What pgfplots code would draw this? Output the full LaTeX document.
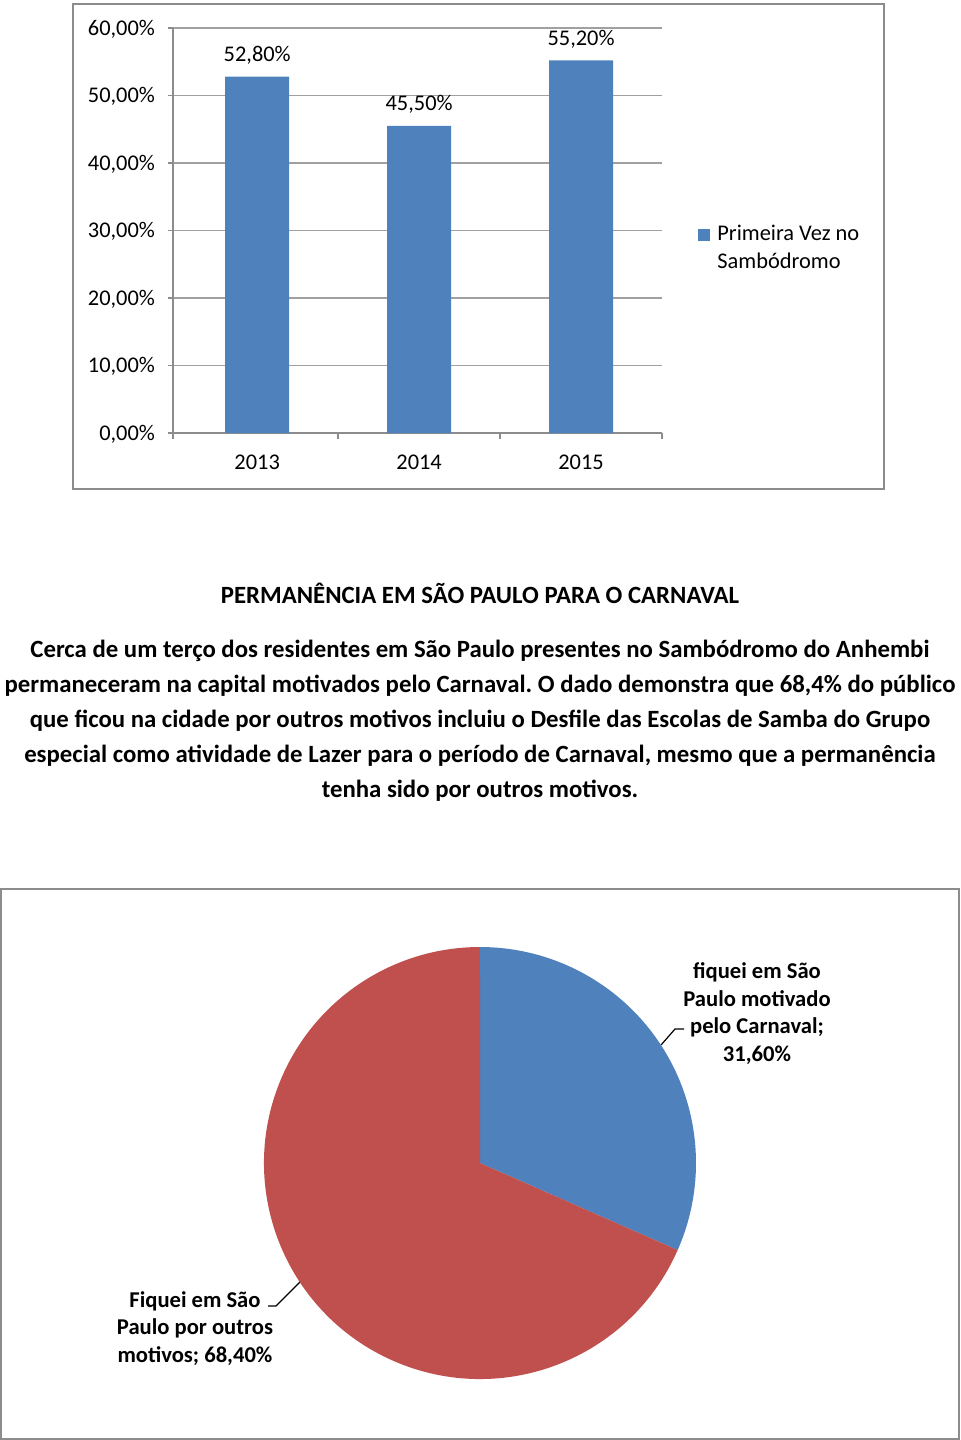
\documentclass[border=0pt]{standalone}
\usepackage{pgfplots}
\pgfplotsset{compat=1.18}
\usepackage{pgfplotstable}
\usepackage{fontspec}
\setmainfont{Carlito}
\frenchspacing
\definecolor{xlblue}{HTML}{4F81BD}
\definecolor{xlred}{HTML}{C0504D}
\definecolor{xlgrid}{HTML}{A0A0A0}
\definecolor{xlaxis}{HTML}{8C8C8C}
\definecolor{xlbox}{HTML}{8C8C8C}
\pgfplotstableread{
label value
blue 31.6
red 68.4
}\piedata
\begin{document}
\begin{tikzpicture}
\pgfplotstablegetelem{0}{value}\of\piedata
\pgfmathsetmacro\angA{90-3.6*\pgfplotsretval}
\begin{scope}[x=0.5pt,y=-0.5pt]
\path (0,0) rectangle (960,1440);
\draw[xlbox, line width=1pt] (73,4) rectangle (884,489);
\draw[xlbox, line width=1pt] (1,889) rectangle (959,1439);
\begin{scope}[every node/.style={font=\fontsize{12.4}{14}\selectfont\bfseries, inner sep=0pt}]
\node at (480,593) {PERMANÊNCIA EM SÃO PAULO PARA O CARNAVAL};
\node at (480,651) {Cerca de um terço dos residentes em São Paulo presentes no Sambódromo do Anhembi};
\node at (480,686) {permaneceram na capital motivados pelo Carnaval. O dado demonstra que 68,4\% do público};
\node at (480,721) {que ficou na cidade por outros motivos incluiu o Desfile das Escolas de Samba do Grupo};
\node at (480,756) {especial como atividade de Lazer para o período de Carnaval, mesmo que a permanência};
\node at (480,791) {tenha sido por outros motivos.};
\end{scope}
\node[align=center, font=\fontsize{11.3}{13.75}\selectfont\bfseries] at (757,1013.5) {fiquei em São\\Paulo motivado\\pelo Carnaval;\\31,60\%};
\node[align=center, font=\fontsize{11.3}{13.75}\selectfont\bfseries] at (195,1328.5) {Fiquei em São\\Paulo por outros\\motivos; 68,40\%};
\draw[black, line width=0.6pt] (661,1045)--(675,1029)--(684,1029);
\draw[black, line width=0.6pt] (268,1306)--(276,1306)--(302,1280);
\end{scope}

\begin{axis}[
  at={(86.5pt,-216.5pt)}, anchor=south west,
  scale only axis, width=244.5pt, height=202.5pt,
  xmin=0.48, xmax=3.5, ymin=0, ymax=60,
  clip=false,
  ybar, bar width=32pt,
  axis x line*=bottom, axis y line*=left,
  axis line style={xlaxis, line width=0.75pt, -},
  xtick={1,2,3}, xticklabels={2013,2014,2015},
  major x tick style={draw=none},
  minor xtick={0.48,1.5,2.5,3.5},
  ytick={0,10,20,30,40,50,60},
  yticklabels={{0,00\%},{10,00\%},{20,00\%},{30,00\%},{40,00\%},{50,00\%},{60,00\%}},
  tick align=outside,
  tick style={xlaxis, line width=0.75pt},
  major tick length=2.5pt, minor tick length=3pt,
  ymajorgrids, grid style={xlgrid, line width=0.75pt},
  /pgf/number format/assume math mode=true,
  ticklabel style={font=\fontsize{11.2}{13}\selectfont},
  yticklabel style={xshift=-3pt, yshift=-0.5pt},
  xticklabel style={yshift=-5pt},
  nodes near coords, point meta=explicit symbolic,
  nodes near coords style={font=\fontsize{11.2}{13}\selectfont, anchor=south, yshift=2.5pt},
  legend style={at={(1.0736,0.455)}, anchor=west, draw=none, fill=none, inner sep=0pt,
    font=\fontsize{11.2}{14}\selectfont, nodes={align=left}},
  legend image code/.code={\fill[xlblue] (0pt,4pt) rectangle (6pt,10pt); \path (7.5pt,7pt);},
]
\addplot[fill=xlblue, draw=none] coordinates {(1,52.8) [52,80\%] (2,45.5) [45,50\%] (3,55.2) [55,20\%]};
\addlegendentry{Primeira Vez no\\Sambódromo}
\end{axis}

\begin{axis}[
  at={(132pt,-689.5pt)}, anchor=south west,
  scale only axis, width=216pt, height=216pt,
  xmin=-1, xmax=1, ymin=-1, ymax=1,
  hide axis, clip=false,
]
\fill[xlblue] (axis cs:0,0) -- (axis cs:0,1) arc[start angle=90, end angle=\angA, radius=108pt] -- cycle;
\fill[xlred] (axis cs:0,0) -- (axis cs:{cos(\angA)},{sin(\angA)}) arc[start angle=\angA, end angle=-270, radius=108pt] -- cycle;
\end{axis}
\end{tikzpicture}
\end{document}
